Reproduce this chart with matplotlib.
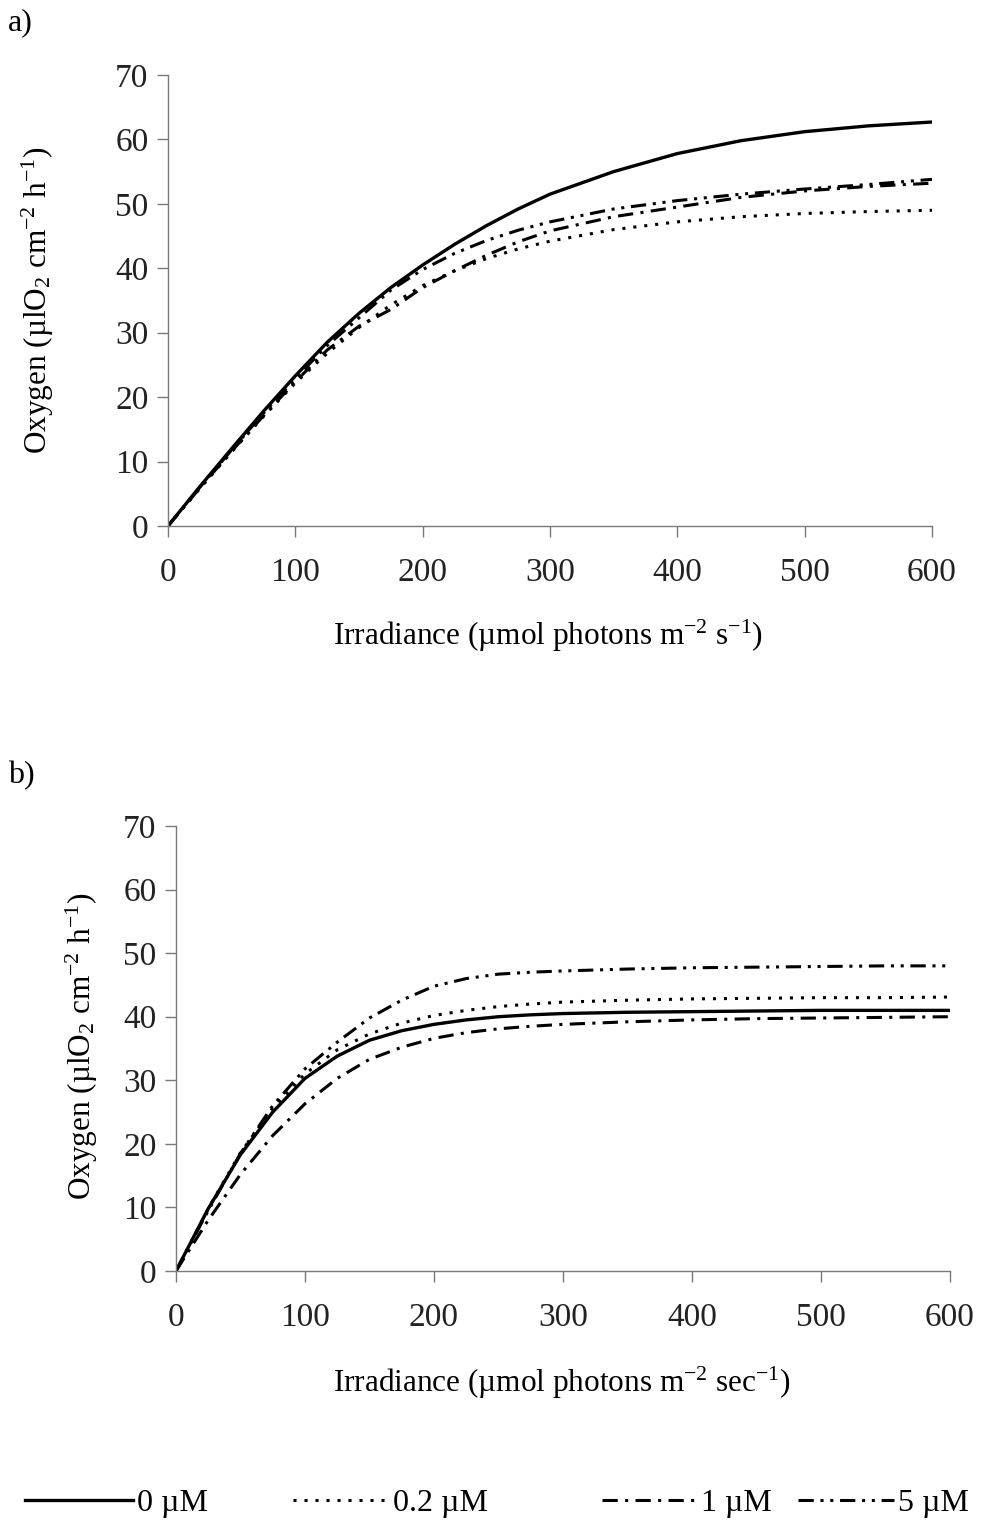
import matplotlib
matplotlib.use("Agg")
import matplotlib.pyplot as plt
from matplotlib.lines import Line2D

plt.rcParams["font.family"] = ["Liberation Serif", "DejaVu Serif"]
plt.rcParams["mathtext.fontset"] = "custom"
plt.rcParams["mathtext.rm"] = "Liberation Serif"
plt.rcParams["mathtext.it"] = "Liberation Serif:italic"

# Irradiance sample points (µmol photons m-2 s-1)
irradiance = [0, 25, 50, 75, 100, 125, 150, 175, 200, 225, 250, 275, 300,
              350, 400, 450, 500, 550, 600]

# Panel a) oxygen evolution (µlO2 cm-2 h-1)
a_0uM = [0, 6.1, 12.0, 17.8, 23.3, 28.5, 33.0, 37.0, 40.5, 43.7, 46.6, 49.2, 51.5,
         55.0, 57.8, 59.8, 61.2, 62.1, 62.7]
a_02uM = [0, 5.8, 11.5, 17.0, 22.2, 26.8, 30.8, 34.3, 37.3, 39.6, 41.5, 43.0, 44.2,
          46.0, 47.2, 48.0, 48.5, 48.8, 49.0]
a_1uM = [0, 5.9, 11.6, 17.1, 22.4, 27.3, 31.0, 33.6, 37.0, 39.6, 42.0, 44.1, 45.8,
         48.0, 49.5, 51.0, 52.0, 52.7, 53.2]
a_5uM = [0, 6.0, 11.8, 17.5, 22.9, 28.0, 32.3, 36.6, 39.8, 42.3, 44.3, 45.9, 47.2,
         49.2, 50.5, 51.5, 52.3, 53.0, 53.8]

# Panel b) oxygen evolution (µlO2 cm-2 h-1)
b_0uM = [0, 9.8, 18.3, 25.0, 30.3, 33.8, 36.3, 37.8, 38.8, 39.5, 40.0, 40.3, 40.5,
         40.7, 40.8, 40.9, 41.0, 41.0, 41.0]
b_02uM = [0, 9.8, 18.6, 25.6, 31.0, 34.8, 37.3, 39.0, 40.2, 41.0, 41.6, 42.0, 42.3,
          42.6, 42.8, 42.9, 43.0, 43.0, 43.1]
b_1uM = [0, 8.0, 15.2, 21.3, 26.3, 30.3, 33.3, 35.2, 36.6, 37.5, 38.1, 38.5, 38.8,
         39.2, 39.5, 39.7, 39.8, 39.9, 40.0]
b_5uM = [0, 9.5, 18.5, 26.0, 31.8, 36.0, 39.8, 42.6, 44.8, 46.0, 46.7, 47.0, 47.2,
         47.5, 47.7, 47.8, 47.9, 48.0, 48.0]

series_labels = ["0 µM", "0.2 µM", "1 µM", "5 µM"]
styles = [
    dict(linestyle="-", linewidth=2.4),
    dict(linestyle=(0, (1.0, 2.6)), linewidth=2.2),
    dict(linestyle=(0, (5.0, 2.4, 1.0, 2.4)), linewidth=2.2),
    dict(linestyle=(0, (5.0, 2.2, 1.0, 2.2, 1.0, 2.2)), linewidth=2.2),
]

x_ticks = [0, 100, 200, 300, 400, 500, 600]
y_ticks = [0, 10, 20, 30, 40, 50, 60, 70]

fig = plt.figure(figsize=(9.83, 15.24), dpi=100)
ax_a = fig.add_axes([0.1709, 0.6549, 0.7772, 0.2959])
ax_b = fig.add_axes([0.1790, 0.1660, 0.7874, 0.2920])

panels = [
    (ax_a, [a_0uM, a_02uM, a_1uM, a_5uM],
     "Irradiance (µmol photons m$^{-2}$ s$^{-1}$)", (0.497, -0.244), (-0.170, 0.50)),
    (ax_b, [b_0uM, b_02uM, b_1uM, b_5uM],
     "Irradiance (µmol photons m$^{-2}$ sec$^{-1}$)", (0.499, -0.251), (-0.121, 0.505)),
]

for ax, data, xlabel, xl_pos, yl_pos in panels:
    for values, st in zip(data, styles):
        ax.plot(irradiance, values, color="black", solid_capstyle="butt",
                dash_capstyle="butt", **st)
    ax.set_xlim(0, 600)
    ax.set_ylim(0, 70)
    ax.set_xticks(x_ticks)
    ax.set_yticks(y_ticks)
    for side in ("top", "right"):
        ax.spines[side].set_visible(False)
    for side in ("left", "bottom"):
        ax.spines[side].set_color("#7a7a7a")
        ax.spines[side].set_linewidth(1.0)
    ax.tick_params(direction="out", length=8, width=1.0, color="#7a7a7a",
                   labelsize=24, labelcolor="#222222")
    ax.tick_params(axis="x", pad=15)
    ax.tick_params(axis="y", pad=6)
    ax.set_xlabel(xlabel, fontsize=22.5, va="center")
    ax.set_ylabel("Oxygen (µlO$_2$ cm$^{-2}$ h$^{-1}$)", fontsize=22.5, va="center")
    ax.xaxis.set_label_coords(*xl_pos)
    ax.yaxis.set_label_coords(*yl_pos)

fig.text(0.008, 0.985, "a)", fontsize=23, ha="left", va="center")
fig.text(0.008, 0.491, "b)", fontsize=23, ha="left", va="center")

# One legend entry per column, spaced along the bottom edge
legend_x = [0.025, 0.298, 0.612, 0.812]
legend_len = [3.4, 3.0, 3.0, 3.0]
for st, label, lx, hl in zip(styles, series_labels, legend_x, legend_len):
    handle = Line2D([], [], color="black", **st)
    fig.legend([handle], [label], loc="center left", bbox_to_anchor=(lx, 0.0136),
               frameon=False, fontsize=23, handlelength=hl, handletextpad=0.12,
               borderpad=0, borderaxespad=0)

fig.savefig("out.png", dpi=100)
